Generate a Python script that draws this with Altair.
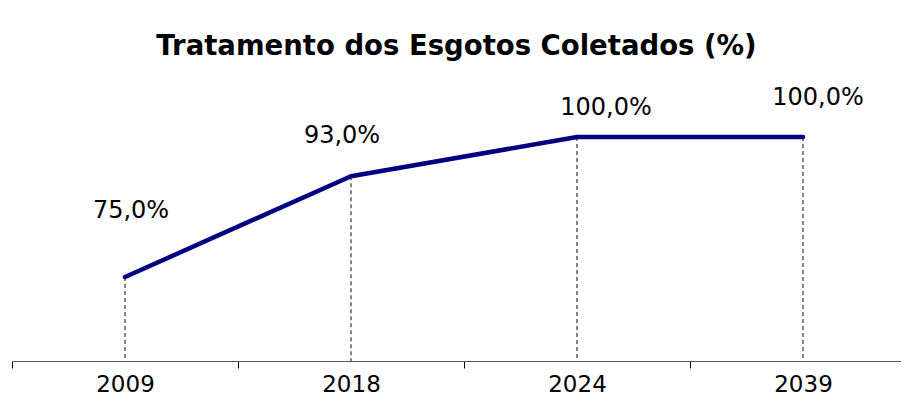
import altair as alt
import pandas as pd

years = ["2009", "2018", "2024", "2039"]
values = [75.0, 93.0, 100.0, 100.0]

# manual placement of the value labels (offsets from each point, px)
label_dx = [6, -9, 29, 15]
label_dy = [-59, -33, -22, -32]

FONT = "DejaVu Sans"

df = pd.DataFrame({"ano": years, "valor": values})
df["rotulo"] = [f"{v:.1f}%".replace(".", ",") for v in values]

x = alt.X(
    "ano:N",
    sort=years,
    scale=alt.Scale(domain=years, range=[0, 904], paddingInner=0, paddingOuter=0),
    axis=alt.Axis(
        title=None,
        tickBand="extent",
        labelAngle=0,
        labelFont=FONT,
        labelFontSize=23,
        labelColor="#000000",
        labelPadding=5,
        tickSize=7,
        tickColor="#000000",
        tickWidth=1,
        domainColor="#555555",
        domainWidth=1,
        grid=False,
    ),
)
y = alt.Y("valor:Q", scale=alt.Scale(domain=[60, 110], nice=False, zero=False), axis=None)

base = alt.Chart(df)

drops = base.mark_rule(color="#222222", strokeDash=[4, 3], strokeWidth=1.1).encode(
    x=x, y=y, y2=alt.datum(60)
)
line = base.mark_line(
    color="#000080", strokeWidth=4.5, strokeCap="round", strokeJoin="round"
).encode(x=x, y=y)

texts = []
for yr, dx, dy in zip(years, label_dx, label_dy):
    texts.append(
        base.transform_filter(alt.datum.ano == yr)
        .mark_text(
            dx=dx, dy=dy, align="center", baseline="alphabetic",
            font=FONT, fontSize=24, color="#000000",
        )
        .encode(x=x, y=y, text="rotulo:N")
    )

chart = (
    alt.layer(drops, line, *texts)
    .properties(
        width=889,
        height=280,
        autosize=alt.AutoSizeParams(type="none"),
        padding={"left": 4, "top": 73, "right": 0, "bottom": 38},
        title=alt.Title(
            "Tratamento dos Esgotos Coletados (%)",
            font=FONT, fontSize=27.5, fontWeight="bold", color="#000000",
            anchor="middle", offset=21,
        ),
    )
    .configure_view(stroke=None)
)

chart.save("out.html", embed_options={"renderer": "svg", "actions": False})
